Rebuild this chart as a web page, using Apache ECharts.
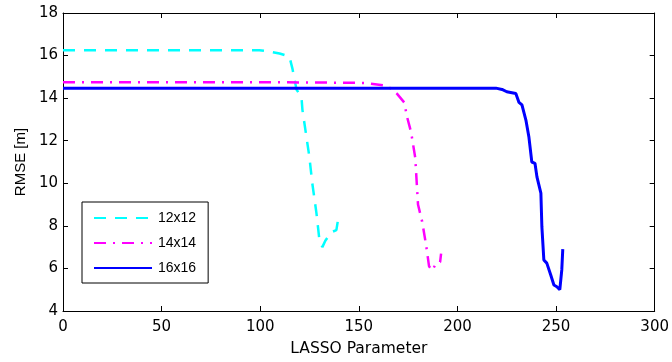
<!DOCTYPE html>
<html>
<head>
<meta charset="utf-8">
<script src="https://cdn.jsdelivr.net/npm/echarts@6/dist/echarts.min.js"></script>
<style>
html,body{margin:0;padding:0;background:#fff;}
#chart{width:672px;height:362px;}
</style>
</head>
<body>
<div id="chart"></div>
<script>
// ---- data ----
var seriesNames = ['12x12', '14x14', '16x16'];

var x12 = [0, 50, 99.6, 104, 109.8, 114.8, 116.3, 118.4, 120.9, 121.4, 124.9, 126.4, 128.5, 130, 131.5, 133, 136, 138.6, 140];
var y12 = [16.25, 16.25, 16.25, 16.2, 16.1, 15.95, 15.4, 14.4, 14.05, 13.45, 11.25, 10.0, 8.6, 7.35, 7.0, 7.3, 7.7, 7.8, 8.6];

var x14 = [0, 50, 100, 149.2, 154.3, 162.9, 166.4, 169.4, 173, 174.5, 176.5, 178.6, 180, 182.1, 184.1, 185.6, 187.2, 189.2, 191.2, 191.7];
var y14 = [14.75, 14.75, 14.75, 14.72, 14.7, 14.6, 14.45, 14.2, 13.8, 13.1, 12.4, 11.2, 9.0, 8.2, 7.1, 6.1, 5.9, 6.25, 6.3, 6.7];

var x16 = [0, 100, 206, 219.5, 222.6, 225, 229.6, 231.2, 232.7, 234.7, 236.2, 237.7, 239.3, 240.3, 242.3, 242.8, 243.8, 245.3, 247.3, 248.9, 250.4, 251.9, 252.9, 253.4];
var y16 = [14.47, 14.47, 14.47, 14.47, 14.41, 14.3, 14.22, 13.8, 13.68, 12.97, 12.19, 11.0, 10.94, 10.3, 9.54, 7.96, 6.4, 6.25, 5.69, 5.22, 5.14, 5.0, 5.93, 6.91];

var xTicks = [0, 50, 100, 150, 200, 250, 300];
var yTicks = [4, 6, 8, 10, 12, 14, 16, 18];

function pairs(xs, ys) {
  var out = [];
  for (var i = 0; i < xs.length; i++) out.push([xs[i], ys[i]]);
  return out;
}

var FONT_W = 'DejaVu Sans';
var FONT = 'Liberation Sans';
var chart = echarts.init(document.getElementById('chart'), null, {renderer: 'canvas'});

var axisCommon = {
  axisLine: {show: true, onZero: false, lineStyle: {color: '#000', width: 1}},
  axisTick: {show: true, inside: true, length: 5, lineStyle: {color: '#000', width: 1}},
  splitLine: {show: false}
};

var option = {
  backgroundColor: '#fff',
  animation: false,
  grid: {left: 63, right: 16, top: 13, bottom: 51, containLabel: false},
  legend: {
    data: seriesNames,
    orient: 'vertical',
    left: 82,
    top: 202,
    padding: [9, 12, 8, 11],
    itemWidth: 58,
    itemHeight: 14,
    itemGap: 11,
    borderColor: '#000',
    borderWidth: 1,
    backgroundColor: '#fff',
    itemStyle: {opacity: 0},
    textStyle: {fontFamily: FONT, fontSize: 14, color: '#000', padding: [0, 0, 0, 1]}
  },
  xAxis: [
    Object.assign({}, axisCommon, {
      type: 'value', min: 0, max: 300, interval: 50, position: 'bottom',
      name: 'LASSO Parameter', nameLocation: 'middle', nameGap: 30,
      nameTextStyle: {fontFamily: FONT_W, fontSize: 15.5, color: '#000'},
      axisLabel: {fontFamily: FONT_W, fontSize: 15, color: '#000', margin: 9,
        formatter: function (v) { return xTicks.indexOf(v) >= 0 ? String(v) : ''; }}
    }),
    Object.assign({}, axisCommon, {
      type: 'value', min: 0, max: 300, interval: 50, position: 'top',
      axisLabel: {show: false}
    })
  ],
  yAxis: [
    Object.assign({}, axisCommon, {
      type: 'value', min: 4, max: 18, interval: 2, position: 'left',
      name: 'RMSE [m]', nameLocation: 'middle', nameGap: 35,
      nameTextStyle: {fontFamily: FONT, fontSize: 15, color: '#000'},
      axisLabel: {fontFamily: FONT_W, fontSize: 15, color: '#000', margin: 5,
        formatter: function (v) { return yTicks.indexOf(v) >= 0 ? String(v) : ''; }}
    }),
    Object.assign({}, axisCommon, {
      type: 'value', min: 4, max: 18, interval: 2, position: 'right',
      axisLabel: {show: false}
    })
  ],
  series: [
    {
      name: seriesNames[0], type: 'line', data: pairs(x12, y12),
      symbol: 'none', smooth: false, z: 3,
      lineStyle: {color: '#00ffff', width: 2.5, type: [12, 9]},
      itemStyle: {color: '#00ffff'}
    },
    {
      name: seriesNames[1], type: 'line', data: pairs(x14, y14),
      symbol: 'none', smooth: false, z: 3,
      lineStyle: {color: '#ff00ff', width: 2.5, type: [12, 7, 2, 7]},
      itemStyle: {color: '#ff00ff'}
    },
    {
      name: seriesNames[2], type: 'line', data: pairs(x16, y16),
      symbol: 'none', smooth: false, z: 3,
      lineStyle: {color: '#0000ff', width: 3, type: 'solid'},
      itemStyle: {color: '#0000ff'}
    }
  ]
};
chart.setOption(option);
</script>
</body>
</html>
